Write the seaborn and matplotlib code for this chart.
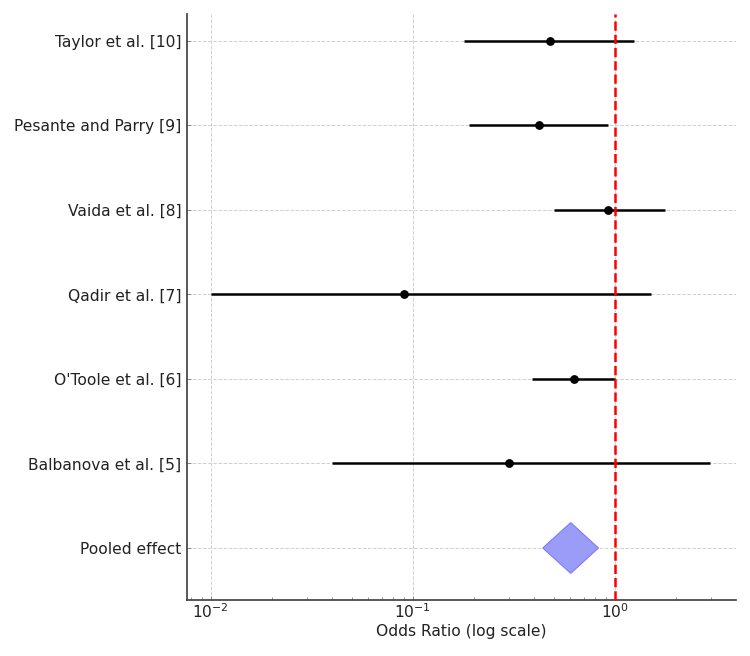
import numpy as np
import pandas as pd
import matplotlib
matplotlib.use("Agg")
import matplotlib.pyplot as plt
import seaborn as sns

# Study estimates (odds ratios with 95% CI), top to bottom
studies = ["Taylor et al. [10]", "Pesante and Parry [9]", "Vaida et al. [8]",
           "Qadir et al. [7]", "O'Toole et al. [6]", "Balbanova et al. [5]"]
odds_ratio = [0.48, 0.42, 0.93, 0.09, 0.63, 0.30]
ci_low = [0.18, 0.19, 0.50, 0.010, 0.39, 0.04]
ci_high = [1.24, 0.93, 1.77, 1.51, 1.00, 2.95]

pooled_label = "Pooled effect"
pooled_or = 0.605
pooled_low = 0.44
pooled_high = 0.83

df = pd.DataFrame({"study": studies, "or": odds_ratio, "lo": ci_low, "hi": ci_high})
df["y"] = np.arange(len(df), 0, -1)

sns.set_theme(style="ticks")
plt.rcParams['font.family'] = ['DejaVu Sans']

fig = plt.figure(figsize=(7.5, 6.56), dpi=100)
ax = fig.add_axes([0.249, 0.0854, 0.732, 0.8936])

ax.hlines(df["y"], df["lo"], df["hi"], color="black", linewidth=1.8, zorder=3)
sns.scatterplot(data=df, x="or", y="y", color="black", s=40, edgecolor="black",
                linewidth=0, zorder=4, ax=ax, legend=False)

# pooled diamond
h = 0.3
ax.fill([pooled_low, pooled_or, pooled_high, pooled_or], [0, h, 0, -h],
        color="#9a9cf7", edgecolor="#7b7ef0", linewidth=0.8, zorder=3)

ax.axvline(1, color="red", linestyle="--", linewidth=1.8, zorder=5)

ax.set_xscale("log")
ax.set_xlim(0.0076, 3.97)
ax.set_ylim(-0.615, 6.32)
ax.set_yticks(list(df["y"]) + [0])
ax.set_yticklabels(list(df["study"]) + [pooled_label])
ax.set_xlabel("Odds Ratio (log scale)", fontsize=11.2, color="#222222", labelpad=2)
ax.set_ylabel("")
ax.tick_params(axis="both", which="both", direction="in", labelsize=11.2,
               labelcolor="#222222", color="#888888", pad=4)
ax.tick_params(axis="x", which="both", pad=2)
ax.tick_params(axis="both", which="major", length=3, width=0.7)
ax.tick_params(axis="x", which="minor", length=2, width=0.6)
ax.grid(True, which="major", linestyle="--", color="#d0d0d0", linewidth=0.7, zorder=0)
ax.set_axisbelow(True)
for s in ["left", "bottom"]:
    ax.spines[s].set_color("#444444")
sns.despine(ax=ax)

fig.savefig("out.png", dpi=100)
